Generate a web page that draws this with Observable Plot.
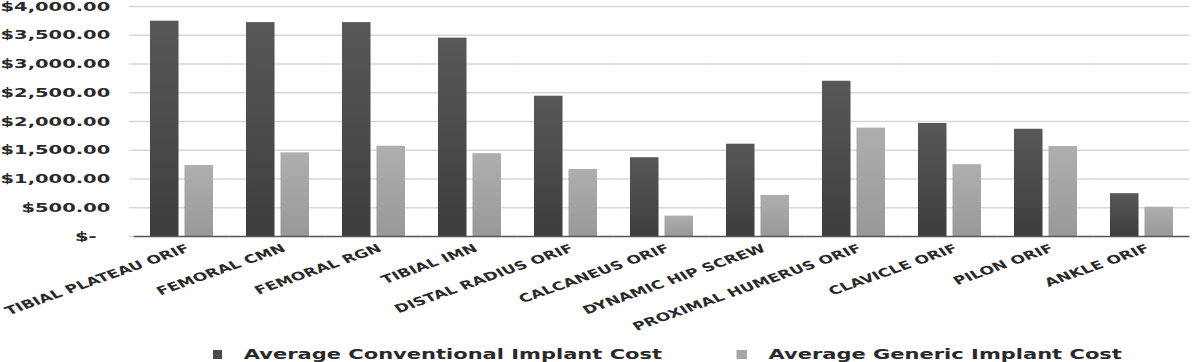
<!DOCTYPE html>
<html>
<head>
<meta charset="utf-8">
<script src="https://cdn.jsdelivr.net/npm/d3@7"></script>
<script src="https://cdn.jsdelivr.net/npm/@observablehq/plot@0.6"></script>
<style>
  html, body { margin: 0; padding: 0; background: #fff; }
  #chart { width: 1200px; height: 362px; overflow: hidden; position: relative; background: #fff; }
  #legend {
    width: 800px; height: 24px; transform: scaleX(1.5); transform-origin: 0 0;
    display: flex; align-items: center; box-sizing: border-box; padding-top: 8px;
    font: bold 14px "DejaVu Sans", sans-serif; color: #2a2a2a; white-space: nowrap;
  }
  #legend .item { display: flex; align-items: center; }
  #legend .sw { width: 6.5px; height: 9px; margin-right: 14.5px; }
</style>
</head>
<body>
<div id="chart"></div>
<script>
// ---- data ----
const categories = [
  "TIBIAL PLATEAU ORIF", "FEMORAL CMN", "FEMORAL RGN", "TIBIAL IMN",
  "DISTAL RADIUS ORIF", "CALCANEUS ORIF", "DYNAMIC HIP SCREW",
  "PROXIMAL HUMERUS ORIF", "CLAVICLE ORIF", "PILON ORIF", "ANKLE ORIF"
];
const conventional = [3745, 3720, 3720, 3450, 2440, 1370, 1605, 2700, 1965, 1865, 745];
const generic      = [1235, 1455, 1570, 1440, 1165, 355, 715, 1885, 1250, 1565, 510];
const seriesNames = ["Average Conventional Implant Cost", "Average Generic Implant Cost"];
const seriesColors = ["#4a4a4a", "#a6a6a6"];
const yTicks = [0, 500, 1000, 1500, 2000, 2500, 3000, 3500, 4000];
const yTickLabels = ["$-  ", "$500.00", "$1,000.00", "$1,500.00", "$2,000.00",
                     "$2,500.00", "$3,000.00", "$3,500.00", "$4,000.00"];

const rows = categories.flatMap((c, i) => [
  {category: c, series: seriesNames[0], value: conventional[i]},
  {category: c, series: seriesNames[1], value: generic[i]}
]);

// ---- chart (drawn at 800 wide, stretched horizontally to 1200 like the reference) ----
const W = 800, H = 338, S = 1.5;
const fmtY = d => yTickLabels[yTicks.indexOf(d)];

const chart = Plot.plot({
  width: W, height: H,
  marginTop: 6, marginBottom: 102, marginLeft: 85, marginRight: 3,
  style: {fontFamily: "DejaVu Sans", fontWeight: "bold", color: "#2a2a2a", background: "#fff", overflow: "visible"},
  fx: {domain: categories, padding: 0, label: null},
  x: {domain: seriesNames, paddingInner: 0.167, paddingOuter: 0.43, axis: null},
  y: {domain: [0, 4000], label: null, axis: null},
  marks: [
    Plot.ruleY(yTicks.filter(d => d > 0), {stroke: "#d6d6d6", strokeWidth: 1.5}),
    Plot.barY(rows.filter(d => d.series === seriesNames[0]),
      {fx: "category", x: "series", y: "value", fill: "url(#gDark)"}),
    Plot.barY(rows.filter(d => d.series === seriesNames[1]),
      {fx: "category", x: "series", y: "value", fill: "url(#gLight)"}),
    Plot.ruleY([0], {stroke: "#555", strokeWidth: 1.6}),
    Plot.axisY(yTicks, {tickFormat: fmtY, tickSize: 3, tickPadding: 13, fontSize: 13,
      stroke: "#c8c8c8", fill: "#2a2a2a", label: null}),
    Plot.axisFx({anchor: "bottom", tickRotate: -28, tickSize: 0, tickPadding: 11, dx: 4,
      fontSize: 11.5, fill: "#2a2a2a", label: null})
  ]
});

// gradients for the bars
const ns = "http://www.w3.org/2000/svg";
const defs = document.createElementNS(ns, "defs");
defs.innerHTML = `
  <linearGradient id="gDark" x1="0" y1="0" x2="0" y2="1">
    <stop offset="0" stop-color="#585858"/><stop offset="1" stop-color="#3d3d3d"/>
  </linearGradient>
  <linearGradient id="gLight" x1="0" y1="0" x2="0" y2="1">
    <stop offset="0" stop-color="#aeaeae"/><stop offset="1" stop-color="#999999"/>
  </linearGradient>`;
chart.prepend(defs);

chart.setAttribute("width", W * S);
chart.setAttribute("height", H);
chart.setAttribute("preserveAspectRatio", "none");
chart.style.width = (W * S) + "px";
chart.style.height = H + "px";
chart.style.maxWidth = "none";

const root = document.getElementById("chart");
root.appendChild(chart);

// legend (below the SVG)
const legend = document.createElement("div");
legend.id = "legend";
const offsets = [141.5, 50];
seriesNames.forEach((name, i) => {
  const item = document.createElement("div");
  item.className = "item";
  item.style.marginLeft = offsets[i] + "px";
  const sw = document.createElement("span");
  sw.className = "sw";
  sw.style.background = seriesColors[i];
  const tx = document.createElement("span");
  tx.textContent = name;
  item.appendChild(sw);
  item.appendChild(tx);
  legend.appendChild(item);
});
root.appendChild(legend);
</script>
</body>
</html>
